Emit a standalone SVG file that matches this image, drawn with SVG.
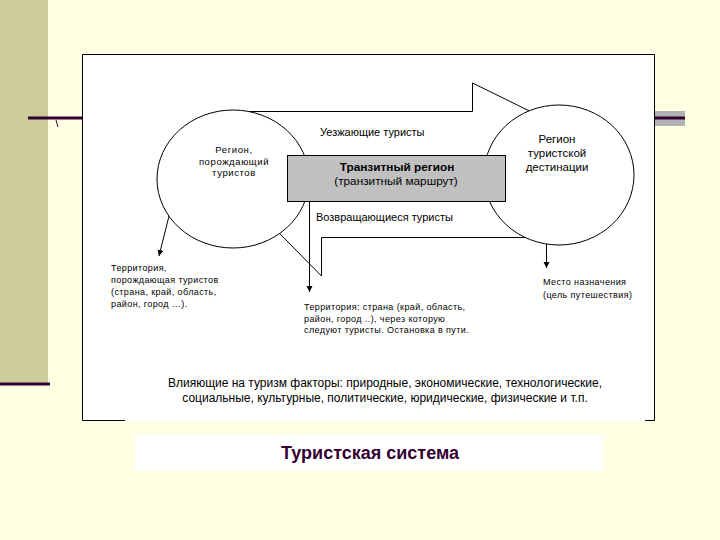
<svg xmlns="http://www.w3.org/2000/svg" width="720" height="540" viewBox="0 0 720 540">
<defs>
<style>
.t{font-family:"Liberation Sans",Arial,sans-serif;fill:#000}
.s11{font-size:11px}
.s12{font-size:11.8px}
.s9{font-size:9px;letter-spacing:0.4px}
.c{text-anchor:middle}
.ln{stroke:#000;stroke-width:1;fill:none}
.shape{stroke:#000;stroke-width:1;fill:#fff}
.bar{stroke:#330033;stroke-width:3}
</style>
<marker id="ah" markerUnits="userSpaceOnUse" markerWidth="7" markerHeight="7" refX="6" refY="3" orient="auto">
<path d="M0,0 L6,3 L0,6 z" fill="#000"/>
</marker>
</defs>
<rect width="720" height="540" fill="#FFFFE3"/>
<g id="decor">
<rect x="0" y="0" width="48" height="383" fill="#CCCC99"/>
<line class="bar" x1="0" y1="384" x2="50" y2="384"/>
<rect x="655" y="111" width="30" height="15" fill="#B2B2B2"/>
<line class="bar" x1="28" y1="118" x2="83" y2="118"/>
<line class="bar" x1="655" y1="118" x2="685" y2="118"/>
<path d="M56 120 L58 127" stroke="#330033" stroke-width="1"/>
</g>
<g id="frame">
<rect x="82" y="54" width="573" height="367" fill="#fff"/>
<path class="ln" d="M125 420.5 H82.5 V54.5 H654.5 V420.5 H645"/>
</g>
<g id="connectors">
<path class="ln" d="M240 111.5 H472.5 V83 L560 126"/>
<path class="ln" d="M266 219.7 L321.5 276 V237.5 H540"/>
<line class="ln" x1="170" y1="212" x2="159" y2="256" marker-end="url(#ah)"/>
<line class="ln" x1="309.5" y1="201" x2="309.5" y2="292" marker-end="url(#ah)"/>
<line class="ln" x1="546.5" y1="238" x2="546.5" y2="268" marker-end="url(#ah)"/>
</g>
<g id="origin-region">
<ellipse class="shape" cx="233" cy="179" rx="76" ry="69"/>
<text class="t c" font-size="9.5" letter-spacing="0.6" x="234" y="153">Регион,</text>
<text class="t c" font-size="9.5" letter-spacing="0.6" x="234" y="164.5">порождающий</text>
<text class="t c" font-size="9.5" letter-spacing="0.6" x="234" y="176">туристов</text>
</g>
<g id="destination-region">
<ellipse class="shape" cx="559" cy="175" rx="75" ry="70"/>
<text class="t c" font-size="11.5" x="557" y="142.5">Регион</text>
<text class="t c" font-size="11.5" x="557" y="156.5">туристской</text>
<text class="t c" font-size="11.5" x="557" y="170.5">дестинации</text>
</g>
<g id="transit-region">
<rect x="287.5" y="155.5" width="218" height="46" fill="#C0C0C0" stroke="#000"/>
<text class="t s12 c" x="397" y="170.5" font-weight="bold">Транзитный регион</text>
<text class="t s12 c" x="396" y="185">(транзитный маршрут)</text>
</g>
<g id="labels">
<text class="t s11" x="320" y="135.5">Уезжающие туристы</text>
<text class="t s11" x="316" y="220.5">Возвращающиеся туристы</text>
</g>
<g id="origin-note">
<text class="t s9" x="111" y="271">Территория,</text>
<text class="t s9" x="111" y="283">порождающая туристов</text>
<text class="t s9" x="111" y="295">(страна, край, область,</text>
<text class="t s9" x="111" y="307">район, город …).</text>
</g>
<g id="transit-note">
<text class="t s9" x="304" y="310">Территория: страна (край, область,</text>
<text class="t s9" x="304" y="321.5">район, город ..), через которую</text>
<text class="t s9" x="304" y="333">следуют туристы. Остановка в пути.</text>
</g>
<g id="destination-note">
<text class="t s9" x="543" y="284.5">Место назначения</text>
<text class="t s9" x="543" y="297.5">(цель путешествия)</text>
</g>
<g id="factors">
<text class="t c" font-size="12" x="385" y="387">Влияющие на туризм факторы: природные, экономические, технологические,</text>
<text class="t c" font-size="12" x="385" y="401.5">социальные, культурные, политические, юридические, физические и т.п.</text>
</g>
<g id="title">
<rect x="135" y="435" width="468" height="36" fill="#fff"/>
<text x="370" y="459" text-anchor="middle" font-family="'Liberation Sans',Arial,sans-serif" font-size="18" font-weight="bold" fill="#330033">Туристская система</text>
</g>
</svg>
